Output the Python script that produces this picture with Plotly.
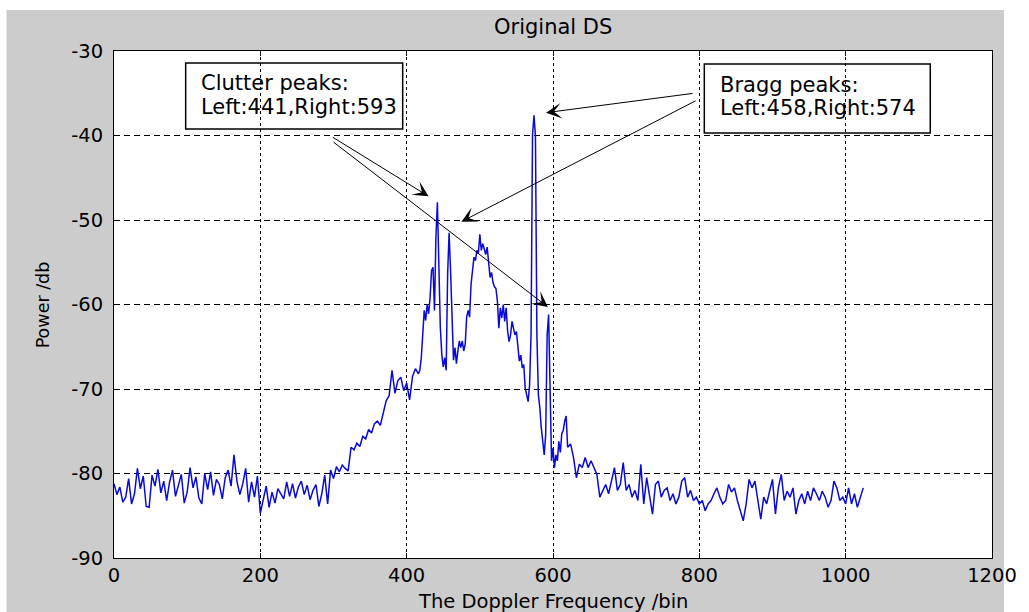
import plotly.graph_objects as go

# ---------------- data ----------------
x_ticks = [0, 200, 400, 600, 800, 1000, 1200]
x_tick_labels = ["0", "200", "400", "600", "800", "1000", "1200"]
y_ticks = [-90, -80, -70, -60, -50, -40, -30]
y_tick_labels = ["-90", "-80", "-70", "-60", "-50", "-40", "-30"]

bins_left = list(range(0, 417, 4))
power_left = [
    -81.2, -82.5, -81.6, -83.4, -82.8, -80.6, -83.6, -82.4, -79.4, -81.8, -80.3,
    -83.9, -84.0, -80.2, -81.5, -79.5, -82.3, -80.9, -83.2, -81.0, -79.6,
    -82.7, -81.4, -80.1, -83.5, -82.2, -79.3, -81.7, -80.4, -82.9, -83.6,
    -80.0, -81.9, -79.8, -82.6, -80.7, -81.3, -83.0, -80.5, -79.6, -81.5,
    -77.8, -80.9, -82.5, -81.2, -79.4, -83.4, -81.0, -82.8, -80.3, -84.7,
    -83.2, -81.5, -84.0, -82.2, -83.5, -81.8, -82.4, -83.0, -81.0, -82.7,
    -81.2, -82.9, -81.6, -80.9, -82.5, -81.4, -83.1, -82.0, -81.3, -83.9,
    -82.4, -80.2, -83.6, -79.6, -80.6, -79.2, -79.8, -79.0, -79.4, -79.7,
    -76.9, -77.2, -76.4, -76.8, -75.6, -75.9, -74.8, -75.2, -74.1, -73.8,
    -74.3, -72.8, -71.4, -70.8, -67.8, -70.5, -69.0, -68.6, -70.2, -69.3,
    -71.3, -68.5, -67.6, -68.2,
]

bins_center = list(range(418, 621, 2))
power_center = [
    -67.8, -66.3, -62.7, -60.7, -61.9, -60.0, -61.1, -59.2, -56.0, -55.6,
    -60.7, -52.0, -47.9, -56.0, -62.7, -65.9, -67.4, -66.3, -67.8, -56.4,
    -51.5, -56.0, -63.0, -66.6, -65.1, -67.0, -65.5, -64.3, -65.1, -64.3,
    -65.5, -64.7, -61.5, -60.7, -61.5, -57.6, -56.0, -54.4, -54.8, -53.6,
    -54.0, -51.7, -53.6, -52.8, -53.4, -54.1, -53.2, -55.5, -56.8, -56.2,
    -57.4, -57.9, -58.1, -59.6, -62.8, -60.4, -61.6, -60.0, -62.0, -60.4,
    -63.2, -64.4, -63.6, -62.0, -62.8, -63.6, -63.2, -65.2, -66.7, -66.0,
    -67.5, -67.1, -69.9, -70.7, -71.5, -69.5, -63.6, -40.0, -37.6, -40.0,
    -63.6, -70.7, -72.2, -74.6, -76.2, -77.8, -75.4, -63.6, -61.2, -69.9,
    -78.5, -77.0, -79.3, -77.8, -78.5, -76.2, -77.5, -75.3, -74.9, -73.8,
    -73.2, -76.9,
]

bins_right = list(range(624, 1025, 4))
power_right = [
    -76.5, -78.1, -80.5, -78.9, -79.3, -78.1, -79.3, -78.5, -79.3, -80.1,
    -82.8, -82.0, -81.3, -82.4, -80.9, -79.3, -82.0, -81.3, -78.7, -82.0,
    -81.3, -82.8, -82.0, -83.2, -78.9, -83.6, -80.5, -82.8, -84.8, -81.3,
    -80.9, -82.8, -82.0, -81.7, -83.2, -82.4, -83.6, -82.8, -80.9, -80.5,
    -82.8, -82.0, -83.2, -82.8, -83.6, -83.2, -84.4, -83.6,
    -83.2, -82.4, -81.7, -82.8, -83.6, -83.2, -81.3, -82.2, -81.7, -83.2,
    -84.4, -85.6, -83.6, -80.7, -81.7, -80.9, -83.2, -85.4, -82.8, -83.6,
    -82.1, -80.7, -84.8, -81.7, -80.1, -83.2, -82.1, -82.8, -81.7, -84.8,
    -83.2, -82.4, -83.6, -82.1, -83.2, -81.7, -82.4, -83.2, -82.1, -82.8,
    -84.0, -83.2, -80.9, -81.7, -83.2, -82.8, -83.6, -81.7, -83.6, -82.4,
    -84.0, -82.8, -81.7,
]

bins = bins_left + bins_center + bins_right
power = power_left + power_center + power_right

title_text = "Original DS"
x_title = "The Doppler Frequency /bin"
y_title = "Power /db"
clutter_lines = ["Clutter peaks:", "Left:441,Right:593"]
bragg_lines = ["Bragg peaks:", "Left:458,Right:574"]

# ---------------- figure ----------------
W, H = 1029, 612
L, R, T, B = 114, 33, 51, 54
PW, PH = W - L - R, H - T - B


def px(xp):
    return (xp - L) / PW


def py(yp):
    return (H - B - yp) / PH


FONT = "DejaVu Sans"

fig = go.Figure()
fig.add_trace(go.Scatter(
    x=bins, y=power, mode="lines",
    line=dict(color="#0a0ad8", width=1.5),
    hoverinfo="skip",
))

axis_common = dict(
    showgrid=True, gridcolor="black", gridwidth=1,
    showline=True, linecolor="black", linewidth=1, mirror="allticks",
    ticks="inside", ticklen=5, tickcolor="black", tickwidth=1,
    zeroline=False, tickfont=dict(family=FONT, size=19.5, color="black"),
)

fig.update_xaxes(range=[0, 1200], tickvals=x_ticks, ticktext=x_tick_labels,
                 griddash="3px,3px", ticklabelstandoff=0, **axis_common)
fig.update_yaxes(range=[-90, -30], tickvals=y_ticks, ticktext=y_tick_labels,
                 griddash="6px,4px", ticklabelstandoff=6, **axis_common)

shapes = [
    # grey figure background
    dict(type="rect", xref="paper", yref="paper", x0=px(6), x1=px(1008),
         y0=py(612), y1=py(10), fillcolor="#cccccc", line=dict(width=0), layer="below"),
    # white axes background
    dict(type="rect", xref="paper", yref="paper", x0=0, x1=1, y0=0, y1=1,
         fillcolor="white", line=dict(width=0), layer="below"),
    # text boxes
    dict(type="rect", xref="paper", yref="paper", x0=px(186), x1=px(404),
         y0=py(129), y1=py(63), line=dict(color="black", width=1.5), fillcolor="rgba(0,0,0,0)"),
    dict(type="rect", xref="paper", yref="paper", x0=px(707), x1=px(934),
         y0=py(133), y1=py(64), line=dict(color="black", width=1.5), fillcolor="rgba(0,0,0,0)"),
]

annotations = [
    dict(text=title_text, xref="paper", yref="paper", x=0.5, y=py(27),
         xanchor="center", yanchor="middle", showarrow=False,
         font=dict(family=FONT, size=21, color="black")),
    dict(text=x_title, xref="paper", yref="paper", x=0.5, y=py(601),
         xanchor="center", yanchor="middle", showarrow=False,
         font=dict(family=FONT, size=19.5, color="black")),
    dict(text=y_title, xref="paper", yref="paper", x=px(43), y=py(305),
         xanchor="center", yanchor="middle", showarrow=False, textangle=-90,
         font=dict(family=FONT, size=17.5, color="black")),
]
for txt, yy in zip(clutter_lines, [83, 107]):
    annotations.append(dict(text=txt, xref="paper", yref="paper", x=px(199), y=py(yy),
                            xanchor="left", yanchor="middle", showarrow=False,
                            font=dict(family=FONT, size=21, color="black")))
for txt, yy in zip(bragg_lines, [85, 108]):
    annotations.append(dict(text=txt, xref="paper", yref="paper", x=px(721), y=py(yy),
                            xanchor="left", yanchor="middle", showarrow=False,
                            font=dict(family=FONT, size=21, color="black")))

arrows = [
    ((297, -40.1), (430, -47.2)),
    ((298, -40.65), (593, -60.3)),
    ((792.7, -35.0), (590.5, -37.3)),
    ((797, -35.8), (474.8, -50.2)),
]
for (tx, ty), (hx, hy) in arrows:
    annotations.append(dict(
        x=hx, y=hy, ax=tx, ay=ty, xref="x", yref="y", axref="x", ayref="y",
        text="", showarrow=True, arrowhead=3, arrowsize=2.6, arrowwidth=1,
        arrowcolor="black", standoff=0,
    ))

fig.update_layout(
    width=W, height=H,
    margin=dict(l=L, r=R, t=T, b=B, pad=0),
    paper_bgcolor="white", plot_bgcolor="white",
    showlegend=False,
    shapes=shapes, annotations=annotations,
)

fig.write_html(
    "out.html",
    config={"displayModeBar": False},
    post_script="document.body.style.margin='0';document.body.style.overflow='hidden';",
)
